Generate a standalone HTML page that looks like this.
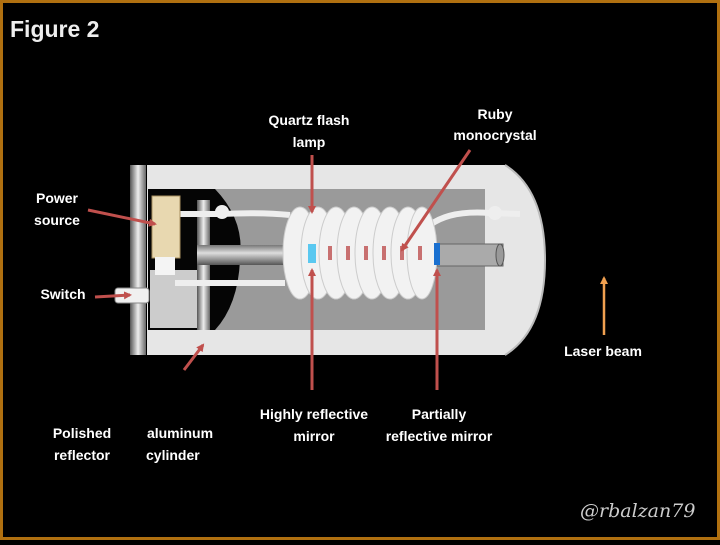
<!DOCTYPE html>
<html><head><style>
body{margin:0;width:720px;height:540px;overflow:hidden;background:#000}
</style></head><body>
<svg width="720" height="540" viewBox="0 0 720 540" xmlns="http://www.w3.org/2000/svg" font-family="Liberation Sans, sans-serif">
<defs>
<linearGradient id="rod" x1="0" y1="0" x2="0" y2="1"><stop offset="0" stop-color="#777"/><stop offset=".4" stop-color="#ddd"/><stop offset="1" stop-color="#555"/></linearGradient>
<linearGradient id="plate" x1="0" y1="0" x2="1" y2="0"><stop offset="0" stop-color="#555"/><stop offset=".5" stop-color="#eee"/><stop offset="1" stop-color="#666"/></linearGradient>
<marker id="ar" markerWidth="8" markerHeight="8" refX="6" refY="4" orient="auto" markerUnits="userSpaceOnUse"><path d="M0,0 L8,4 L0,8 z" fill="#c0504d"/></marker>
<marker id="ao" markerWidth="8" markerHeight="8" refX="6" refY="4" orient="auto" markerUnits="userSpaceOnUse"><path d="M0,0 L8,4 L0,8 z" fill="#f0a050"/></marker>
</defs>
<rect x="1.5" y="1.5" width="717" height="537" fill="#000" stroke="#b07010" stroke-width="3"/>
<text x="10" y="37" fill="#eee" font-size="23" font-weight="bold">Figure 2</text>
<path d="M147,165 L505,165 Q545,190 545,260 Q545,330 505,355 L147,355 Z" fill="#e6e6e6"/>
<path d="M505,165 Q545,190 545,260 Q545,330 505,355" fill="none" stroke="#bbb" stroke-width="2"/>
<rect x="148" y="189" width="337" height="141" fill="#9a9a9a"/>
<path d="M148,189 L215,189 Q245,220 240,260 Q238,305 215,330 L148,330 Z" fill="#050505"/>
<rect x="150" y="270" width="48" height="58" fill="#ccc"/>
<rect x="130" y="165" width="16" height="190" fill="url(#plate)"/>
<rect x="197" y="200" width="13" height="130" fill="url(#plate)"/>
<path d="M180,214 L220,214 Q260,212 290,215" stroke="#eee" stroke-width="6" fill="none"/>
<circle cx="222" cy="212" r="7" fill="#eee"/>
<path d="M430,225 Q450,210 490,213 L520,214" stroke="#eee" stroke-width="6" fill="none"/>
<circle cx="495" cy="213" r="7" fill="#eee"/>
<rect x="175" y="280" width="110" height="6" fill="#eee"/>
<rect x="197" y="245" width="105" height="20" fill="url(#rod)"/>
<rect x="437" y="244" width="66" height="22" fill="#aaa" stroke="#666"/>
<ellipse cx="500" cy="255" rx="4" ry="11" fill="#999" stroke="#555"/>
<g fill="#f2f2f2" stroke="#ccc" stroke-width="1">
<ellipse cx="300" cy="253" rx="17" ry="46"/><ellipse cx="318" cy="253" rx="17" ry="46"/><ellipse cx="336" cy="253" rx="17" ry="46"/><ellipse cx="354" cy="253" rx="17" ry="46"/><ellipse cx="372" cy="253" rx="17" ry="46"/><ellipse cx="390" cy="253" rx="17" ry="46"/><ellipse cx="408" cy="253" rx="17" ry="46"/><ellipse cx="422" cy="253" rx="15" ry="46"/>
</g>
<g fill="#c87070"><rect x="328" y="246" width="4" height="14"/><rect x="346" y="246" width="4" height="14"/><rect x="364" y="246" width="4" height="14"/><rect x="382" y="246" width="4" height="14"/><rect x="400" y="246" width="4" height="14"/><rect x="418" y="246" width="4" height="14"/></g>
<rect x="308" y="244" width="8" height="19" fill="#5ac8f0"/>
<rect x="434" y="243" width="6" height="22" fill="#1a70d0"/>
<rect x="152" y="196" width="28" height="62" fill="#e8d8b0" stroke="#a89060"/>
<rect x="155" y="257" width="20" height="18" fill="#f4f4f4"/>
<rect x="115" y="288" width="34" height="15" rx="3" fill="#f0f0f0" stroke="#888"/>
<g stroke="#c0504d" stroke-width="3" fill="none">
<line x1="88" y1="210" x2="155" y2="224" marker-end="url(#ar)"/>
<line x1="95" y1="297" x2="130" y2="295" marker-end="url(#ar)"/>
<line x1="184" y1="370" x2="203" y2="345" marker-end="url(#ar)"/>
<line x1="312" y1="155" x2="312" y2="212" marker-end="url(#ar)"/>
<line x1="470" y1="150" x2="402" y2="250" marker-end="url(#ar)"/>
<line x1="312" y1="390" x2="312" y2="270" marker-end="url(#ar)"/>
<line x1="437" y1="390" x2="437" y2="270" marker-end="url(#ar)"/>
</g>
<line x1="604" y1="335" x2="604" y2="278" stroke="#f0a050" stroke-width="2.5" marker-end="url(#ao)"/>
<g fill="#fff" font-size="14" font-weight="bold" text-anchor="middle">
<text x="309" y="125">Quartz flash</text><text x="309" y="147">lamp</text>
<text x="495" y="119">Ruby</text><text x="495" y="140">monocrystal</text>
<text x="57" y="203">Power</text><text x="57" y="225">source</text>
<text x="63" y="299">Switch</text>
<text x="603" y="356">Laser beam</text>
<text x="314" y="419">Highly reflective</text><text x="314" y="441">mirror</text>
<text x="439" y="419">Partially</text><text x="439" y="441">reflective mirror</text>
<text x="82" y="438">Polished</text><text x="82" y="460">reflector</text>
<text x="180" y="438">aluminum</text><text x="146" y="460" text-anchor="start">cylinder</text>
</g>
<text x="580" y="517" fill="#ccc" font-size="19" font-style="italic" font-family="DejaVu Serif, serif">@rbalzan79</text>
</svg>
</body></html>
